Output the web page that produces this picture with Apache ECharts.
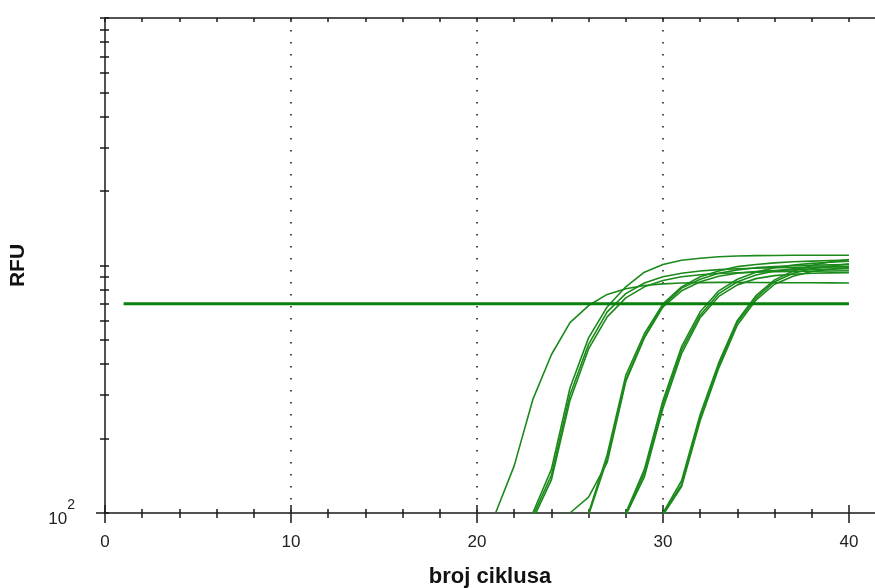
<!DOCTYPE html>
<html>
<head>
<meta charset="utf-8">
<script src="https://cdn.jsdelivr.net/npm/echarts@6/dist/echarts.min.js"></script>
<style>
  html, body { margin: 0; padding: 0; background: #fff; }
  #chart { width: 875px; height: 588px; }
</style>
</head>
<body>
<div id="chart"></div>
<script>
// Amplification curves (RFU per cycle), each listed from its first cycle on.
const startCycles = [21, 23, 23, 23, 25, 26, 26, 28, 28, 28, 30, 30, 30];
const runA1 = [100, 155, 287, 436, 588, 689, 764, 805, 830, 843, 850, 853, 855, 855, 854, 853, 852, 852, 851, 850];
const runB1 = [100, 150, 320, 510, 680, 820, 940, 1010, 1050, 1070, 1085, 1092, 1096, 1098, 1100, 1100, 1100, 1100];
const runB2 = [97, 142, 300, 480, 650, 770, 850, 900, 930, 950, 962, 970, 975, 980, 982, 985, 987, 990];
const runB3 = [94, 136, 285, 460, 620, 740, 820, 870, 900, 918, 928, 935, 940, 944, 946, 948, 950, 952];
const runC1 = [100, 116, 160, 340, 510, 680, 790, 860, 905, 930, 945, 955, 960, 965, 968, 970];
const runC2 = [100, 172, 360, 530, 700, 820, 900, 950, 990, 1010, 1025, 1035, 1042, 1048, 1052];
const runC3 = [98, 165, 345, 515, 690, 810, 880, 930, 960, 980, 990, 997, 1002, 1006, 1010];
const runD1 = [100, 150, 285, 470, 650, 790, 880, 940, 980, 1005, 1020, 1030, 1040];
const runD2 = [99, 145, 275, 455, 630, 770, 860, 915, 950, 970, 980, 987, 990];
const runD3 = [98, 140, 265, 440, 615, 750, 835, 885, 910, 922, 930, 934, 936];
const runE1 = [100, 135, 250, 405, 600, 755, 875, 950, 1000, 1035, 1058];
const runE2 = [99, 130, 242, 395, 590, 740, 860, 930, 970, 995, 1015];
const runE3 = [98, 128, 236, 385, 575, 725, 840, 905, 945, 965, 980];
const runs = [runA1, runB1, runB2, runB3, runC1, runC2, runC3, runD1, runD2, runD3, runE1, runE2, runE3];

// Threshold line
const thresholdRFU = 700;
const thresholdCycles = [1, 40];

// Axis ticks and labels
const xMajorTicks = [0, 10, 20, 30, 40];
const xMinorTicks = [0, 2, 4, 6, 8, 10, 12, 14, 16, 18, 20, 22, 24, 26, 28, 30, 32, 34, 36, 38, 40];
const yTicks = [100, 200, 300, 400, 500, 600, 700, 800, 900,
                1000, 2000, 3000, 4000, 5000, 6000, 7000, 8000, 9000, 10000];
const yLabelTicks = [100];

const FONT = '"Liberation Sans", Arial, sans-serif';
const AXIS_COLOR = '#1a1a1a';
const CURVE_COLOR = '#1b8a1b';
const THRESH_COLOR = '#0a800a';
const X_MAX = 41.4;

const chart = echarts.init(document.getElementById('chart'), null, { renderer: 'canvas' });

const xBase = {
  type: 'value', min: 0, max: X_MAX, gridIndex: 0,
  splitLine: { show: false },
  axisLabel: { show: false },
  axisLine: { show: false },
  axisTick: { show: false }
};

function tickAxis(position, values, length, inside) {
  return Object.assign({}, xBase, {
    position: position,
    axisTick: {
      show: true, inside: inside, length: length, customValues: values,
      lineStyle: { color: AXIS_COLOR, width: 1.5 }
    }
  });
}

const yBase = {
  type: 'log', logBase: 10, min: 100, max: 10000, gridIndex: 0, position: 'left',
  splitLine: { show: false },
  axisLabel: { show: false },
  axisLine: { show: false },
  axisTick: { show: false }
};

function yTickAxis(values, length, inside) {
  return Object.assign({}, yBase, {
    axisTick: {
      show: true, inside: inside, length: length, customValues: values,
      lineStyle: { color: AXIS_COLOR, width: 1.5 }
    }
  });
}

const series = runs.map((run, i) => ({
  type: 'line',
  xAxisIndex: 0, yAxisIndex: 0,
  data: run.map((v, k) => [startCycles[i] + k, v]),
  showSymbol: false,
  symbol: 'none',
  clip: true,
  lineStyle: { color: CURVE_COLOR, width: 1.6 },
  z: 3,
  silent: true
}));

series.push({
  type: 'line',
  xAxisIndex: 0, yAxisIndex: 0,
  data: thresholdCycles.map(c => [c, thresholdRFU]),
  showSymbol: false,
  symbol: 'none',
  lineStyle: { color: THRESH_COLOR, width: 3 },
  z: 4,
  silent: true
});

chart.setOption({
  animation: false,
  backgroundColor: '#ffffff',
  grid: {
    left: 105, top: 18, width: 770, height: 495,
    containLabel: false, outerBoundsMode: 'none'
  },
  xAxis: [
    // main bottom axis: line, long outside ticks, labels, dotted gridlines, name
    Object.assign({}, xBase, {
      position: 'bottom',
      interval: 10,
      axisLine: { show: true, lineStyle: { color: AXIS_COLOR, width: 1.5 } },
      axisTick: {
        show: true, inside: false, length: 10, customValues: xMajorTicks,
        lineStyle: { color: AXIS_COLOR, width: 1.5 }
      },
      axisLabel: {
        show: true, customValues: xMajorTicks, margin: 21,
        color: '#222', fontFamily: FONT, fontSize: 17
      },
      splitLine: {
        show: true, showMinLine: false, showMaxLine: false,
        lineStyle: { color: '#222', width: 1.6, type: [1.6, 10.4] }
      },
      name: 'broj ciklusa',
      nameLocation: 'middle',
      nameGap: 53,
      nameTextStyle: { color: '#111', fontFamily: FONT, fontWeight: 'bold', fontSize: 22 }
    }),
    tickAxis('bottom', xMajorTicks, 8, true),
    tickAxis('bottom', xMinorTicks, 5, false),
    tickAxis('bottom', xMinorTicks, 4, true),
    // top frame line with small inside ticks
    Object.assign(tickAxis('top', xMinorTicks, 4, true), {
      axisLine: { show: true, lineStyle: { color: AXIS_COLOR, width: 1.5 } }
    })
  ],
  yAxis: [
    Object.assign({}, yBase, {
      axisLine: { show: true, lineStyle: { color: AXIS_COLOR, width: 1.5 } },
      axisTick: {
        show: true, inside: false, length: 5, customValues: yTicks,
        lineStyle: { color: AXIS_COLOR, width: 1.5 }
      },
      axisLabel: {
        show: true, customValues: yLabelTicks, margin: 30,
        fontFamily: FONT, color: '#222',
        formatter: () => '{n|10}{s|2}',
        rich: {
          n: { fontSize: 17, fontFamily: FONT, color: '#222', lineHeight: 30, verticalAlign: 'bottom' },
          s: { fontSize: 14, fontFamily: FONT, color: '#222', lineHeight: 16, verticalAlign: 'top' }
        }
      },
      name: 'RFU',
      nameLocation: 'middle',
      nameGap: 76,
      nameRotate: 90,
      nameTextStyle: { color: '#111', fontFamily: FONT, fontWeight: 'bold', fontSize: 21 }
    }),
    yTickAxis(yTicks, 4, true),
    yTickAxis(yLabelTicks, 9, false)
  ],
  series: series
});
</script>
</body>
</html>
